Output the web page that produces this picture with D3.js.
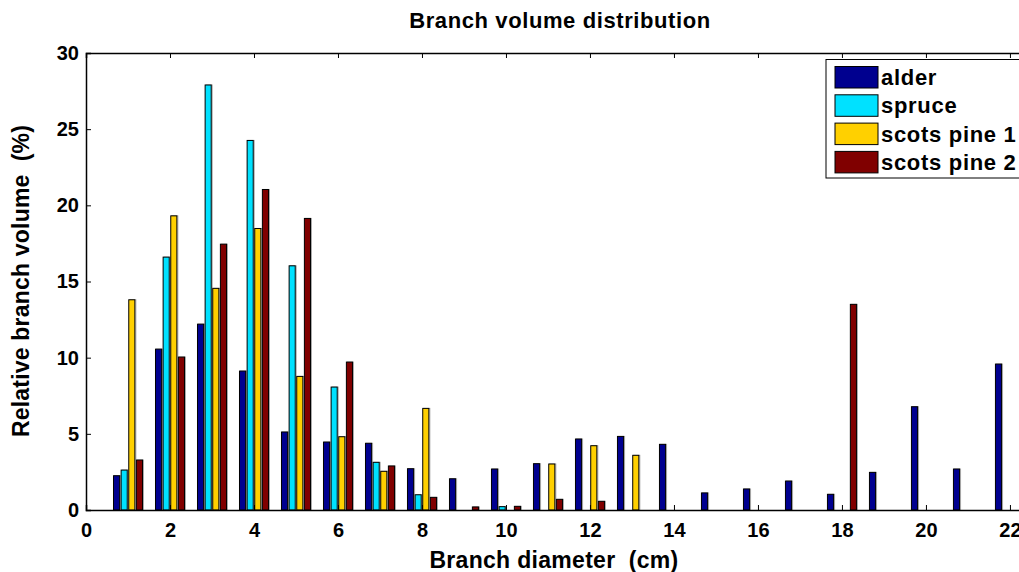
<!DOCTYPE html>
<html>
<head>
<meta charset="utf-8">
<script src="https://cdn.jsdelivr.net/npm/d3@7"></script>
<style>
  body { margin: 0; background: #fff; }
  text { font-family: "Liberation Sans", Arial, Helvetica, sans-serif; font-weight: bold; fill: #000; white-space: pre; }
</style>
</head>
<body>
<div id="chart-container"></div>
<script>
/* Branch volume distribution - grouped bars */

const diameters = [1, 2, 3, 4, 5, 6, 7, 8, 9, 10, 11, 12, 13, 14, 15, 16, 17, 18, 19, 20, 21, 22];
const keys = ["alder", "spruce", "scots pine 1", "scots pine 2"];
const alder = [2.25, 10.56, 12.2, 9.12, 5.12, 4.46, 4.38, 2.71, 2.05, 2.69, 3.04, 4.66, 4.83, 4.31, 1.12, 1.38, 1.9, 1.03, 2.47, 6.78, 2.69, 9.58];
const spruce = [2.62, 16.6, 27.9, 24.26, 16.03, 8.07, 3.13, 1.0, 0, 0.22, 0, 0, 0, 0, 0, 0, 0, 0, 0, 0, 0, 0];
const scotsPine1 = [13.8, 19.31, 14.55, 18.48, 8.77, 4.81, 2.54, 6.67, 0, 0, 3.02, 4.22, 3.59, 0, 0, 0, 0, 0, 0, 0, 0, 0];
const scotsPine2 = [3.28, 10.04, 17.45, 21.04, 19.14, 9.71, 2.89, 0.83, 0.2, 0.24, 0.7, 0.57, 0, 0, 0, 0, 0, 13.5, 0, 0, 0, 0];
const xTicks = [0, 2, 4, 6, 8, 10, 12, 14, 16, 18, 20, 22];
const yTicks = [0, 5, 10, 15, 20, 25, 30];

function create_bars() {
  let height = 572,
    width = 1019,
    margin = { top: 53, right: -9, bottom: 62, left: 86 };

  const svg = d3
    .select("#chart-container")
    .append("svg")
    .attr("width", width)
    .attr("height", height);

  let x = d3
    .scaleLinear()
    .domain([0, 22.43])
    .range([margin.left, width - margin.right]);

  let y = d3
    .scaleLinear()
    .domain([0, 30])
    .range([height - margin.bottom, margin.top]);

  // matlab style: 4 bars share ~0.727 of a unit
  let groupW = x(0.727) - x(0);
  let x1 = d3
    .scaleBand()
    .domain(keys)
    .range([-groupW / 2, groupW / 2])
    .paddingInner(0.2)
    .paddingOuter(0.1);

  let color = d3
    .scaleOrdinal()
    .domain(keys)
    .range(["#00008f", "#00e1ff", "#ffd000", "#800000"]);

  let series = [alder, spruce, scotsPine1, scotsPine2];
  let data = [];
  keys.forEach((k, i) => {
    diameters.forEach((d, j) => data.push({ key: k, d: d, v: series[i][j] }));
  });

  // bars (faint shadow first, like the matlab render)
  svg
    .append("g")
    .selectAll("rect")
    .data(data)
    .join("rect")
    .attr("x", (d) => x(d.d) + x1(d.key) + 1)
    .attr("y", (d) => y(d.v))
    .attr("width", x1.bandwidth())
    .attr("height", (d) => y(0) - y(d.v))
    .attr("fill", "none")
    .attr("stroke", "#aaa")
    .attr("stroke-width", 1);

  svg
    .append("g")
    .selectAll("rect")
    .data(data)
    .join("rect")
    .attr("x", (d) => x(d.d) + x1(d.key))
    .attr("y", (d) => y(d.v))
    .attr("width", x1.bandwidth())
    .attr("height", (d) => y(0) - y(d.v))
    .attr("fill", (d) => color(d.key))
    .attr("stroke", "#000")
    .attr("stroke-width", 1);

  // axes with inward ticks
  svg
    .append("g")
    .attr("transform", `translate(0,${y(0)})`)
    .attr("class", "x-axis")
    .call(d3.axisBottom(x).tickValues(xTicks).tickSize(-5).tickPadding(13));

  svg
    .append("g")
    .attr("transform", `translate(0,${y(30)})`)
    .call(d3.axisTop(x).tickValues(xTicks).tickSize(-5).tickFormat(""));

  svg
    .append("g")
    .attr("transform", `translate(${margin.left},0)`)
    .attr("class", "y-axis")
    .call(d3.axisLeft(y).tickValues(yTicks).tickSize(-5).tickPadding(7));

  svg.selectAll(".domain").attr("stroke", "#000").attr("stroke-width", 1.5);
  svg.selectAll(".tick line").attr("stroke", "#000");
  svg
    .selectAll(".tick text")
    .style("font-size", "20px")
    .style("font-family", "Liberation Sans, Arial, sans-serif")
    .style("font-weight", "bold");

  // title and labels
  svg
    .append("text")
    .attr("x", 560)
    .attr("y", 28)
    .attr("text-anchor", "middle")
    .style("font-size", "22px")
    .style("letter-spacing", "0.6px")
    .text("Branch volume distribution");

  svg
    .append("text")
    .attr("x", 554)
    .attr("y", 568)
    .attr("text-anchor", "middle")
    .style("font-size", "23px")
    .style("letter-spacing", "0.3px")
    .text("Branch diameter  (cm)");

  svg
    .append("text")
    .attr("transform", "translate(29,281) rotate(-90)")
    .attr("text-anchor", "middle")
    .style("font-size", "23px")
    .style("letter-spacing", "0.2px")
    .text("Relative branch volume  (%)");

  // legend
  let lg = svg.append("g").attr("transform", "translate(826,59.5)");
  lg.append("rect")
    .attr("width", 198)
    .attr("height", 118.5)
    .attr("fill", "#fff")
    .attr("stroke", "#000")
    .attr("stroke-width", 1);

  lg.selectAll(".sw")
    .data(keys)
    .join("rect")
    .attr("x", 9)
    .attr("y", (d, i) => 7 + i * 28.3)
    .attr("width", 43)
    .attr("height", 21.5)
    .attr("fill", (d) => color(d))
    .attr("stroke", "#000");

  lg.selectAll(".lbl")
    .data(keys)
    .join("text")
    .attr("x", 55)
    .attr("y", (d, i) => 25.5 + i * 28.3)
    .style("font-size", "22px")
    .style("letter-spacing", "0.7px")
    .text((d) => d);
}

create_bars();
</script>
</body>
</html>
